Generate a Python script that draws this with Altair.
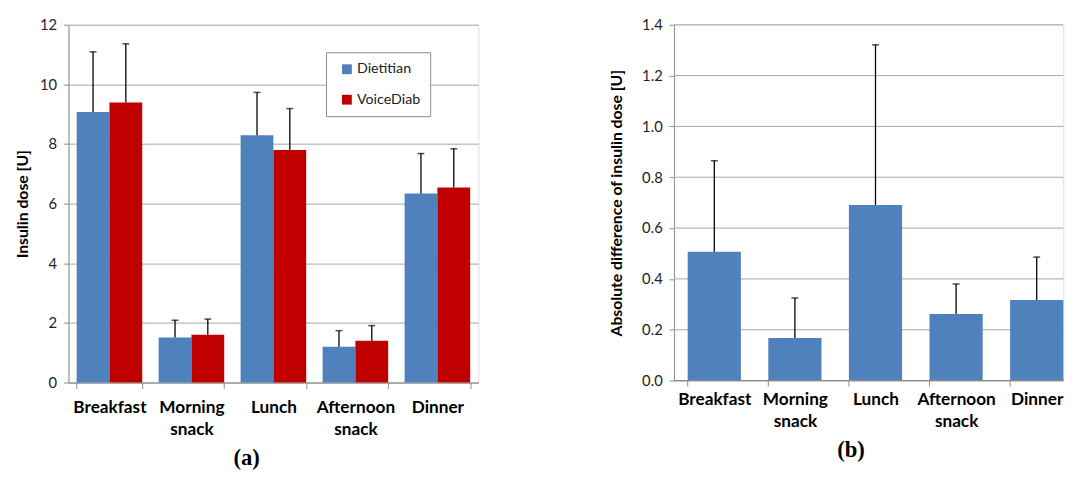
import altair as alt
import pandas as pd

categories = ["Breakfast", "Morning snack", "Lunch", "Afternoon snack", "Dinner"]
sources = ["Dietitian", "VoiceDiab"]
dietitian_mean = [9.07, 1.51, 8.29, 1.20, 6.34]
dietitian_err = [2.02, 0.58, 1.44, 0.54, 1.34]
voicediab_mean = [9.39, 1.60, 7.80, 1.40, 6.54]
voicediab_err = [1.97, 0.53, 1.39, 0.51, 1.30]
diff_mean = [0.507, 0.168, 0.691, 0.262, 0.317]
diff_err = [0.358, 0.157, 0.630, 0.118, 0.169]
ticks_a = [0, 2, 4, 6, 8, 10, 12]
ticks_b = [0.0, 0.2, 0.4, 0.6, 0.8, 1.0, 1.2, 1.4]

BLUE = "#4F81BD"
RED = "#C00000"
GRAY = "#8C8C8C"
GRID = "#A6A6A6"
FONT = "Lato"

rows = []
for i, c in enumerate(categories):
    rows.append({"meal": c, "source": "Dietitian", "mean": dietitian_mean[i],
                 "upper": dietitian_mean[i] + dietitian_err[i]})
    rows.append({"meal": c, "source": "VoiceDiab", "mean": voicediab_mean[i],
                 "upper": voicediab_mean[i] + voicediab_err[i]})
df_a = pd.DataFrame(rows)
df_b = pd.DataFrame({"meal": categories, "mean": diff_mean,
                     "upper": [m + e for m, e in zip(diff_mean, diff_err)]})
df_grid_b = pd.DataFrame({"v": ticks_b[1:]})


def x_axis(full):
    return alt.Axis(title=None, labelAngle=0, labelExpr="split(datum.label, ' ')",
                    labelFont=FONT, labelFontSize=17.5, labelFontWeight="bold",
                    labelColor="black", labelPadding=10, labelLineHeight=23,
                    ticks=full, domain=full, tickBand="extent", tickSize=6,
                    tickColor=GRAY, domainColor=GRAY, grid=False)


def y_axis(title, values, fmt, title_pad, grid):
    return alt.Axis(title=title, values=values, format=fmt,
                    titleFont=FONT, titleFontSize=16, titleFontWeight="bold",
                    titleColor="black", titlePadding=title_pad,
                    labelFont=FONT, labelFontSize=15, labelColor="#222",
                    labelPadding=7, tickSize=5, tickColor=GRAY, domainColor=GRAY,
                    grid=grid, gridColor=GRID)


def panel_title(text, dx=0):
    return alt.TitleParams(text, orient="bottom", anchor="middle", frame="bounds",
                           font="Liberation Serif", fontSize=23, fontWeight="bold",
                           color="black", offset=9, dx=dx)


# ---- panel (a)
x_a = alt.X("meal:N", sort=categories, axis=x_axis(True),
            scale=alt.Scale(paddingInner=0.2, paddingOuter=0.1))
xo_a = alt.XOffset("source:N", sort=sources,
                   scale=alt.Scale(paddingInner=0, paddingOuter=0))
y_a_scale = alt.Scale(domain=[0, 12], nice=False)

base_a = alt.Chart(df_a).encode(x=x_a, xOffset=xo_a)
bars_a = base_a.mark_bar().encode(
    y=alt.Y("mean:Q", scale=y_a_scale,
            axis=y_axis("Insulin dose [U]", ticks_a, "d", 9, True)),
    color=alt.Color("source:N", sort=sources,
                    scale=alt.Scale(domain=sources, range=[BLUE, RED]),
                    legend=alt.Legend(title=None, orient="none", legendX=262, legendY=28,
                                      fillColor="white", strokeColor=GRAY, padding=10,
                                      symbolType="square", symbolSize=100,
                                      symbolStrokeWidth=0, symbolOffset=4,
                                      labelFont=FONT, labelFontSize=14.5, labelColor="#222",
                                      labelOffset=3, rowPadding=16)),
)
err_a = base_a.mark_rule(color="black", strokeWidth=1.3).encode(
    y=alt.Y("mean:Q", scale=y_a_scale), y2="upper:Q")
cap_a = base_a.mark_tick(color="black", thickness=1.5, size=7, orient="horizontal").encode(
    y=alt.Y("upper:Q", scale=y_a_scale))

chart_a = alt.layer(bars_a, err_a, cap_a).properties(
    width=417, height=364, title=panel_title("(a)"))

# ---- panel (b)
W_B = 396
x_b = alt.X("meal:N", sort=categories, axis=x_axis(False),
            scale=alt.Scale(paddingInner=0.34, paddingOuter=0.17, range=[0, 410]))
y_b_scale = alt.Scale(domain=[0, 1.4], nice=False)
grid_b = alt.Chart(df_grid_b).mark_rule(color=GRID, strokeWidth=1).encode(
    y=alt.Y("v:Q", scale=y_b_scale), x=alt.value(0), x2=alt.value(W_B))
base_b = alt.Chart(df_b).encode(x=x_b)
bars_b = base_b.mark_bar(color=BLUE).encode(
    y=alt.Y("mean:Q", scale=y_b_scale,
            axis=y_axis("Absolute difference of insulin dose [U]", ticks_b, ".1f", 17, False)))
err_b = base_b.mark_rule(color="black", strokeWidth=1.3).encode(
    y=alt.Y("mean:Q", scale=y_b_scale), y2="upper:Q")
cap_b = base_b.mark_tick(color="black", thickness=1.5, size=7, orient="horizontal").encode(
    y=alt.Y("upper:Q", scale=y_b_scale))
xticks_b = alt.Chart(df_b).mark_rule(color=GRAY, strokeWidth=1).encode(
    x=alt.X("meal:N", sort=categories, bandPosition=0),
    y=alt.value(362), y2=alt.value(368))
xdomain_b = alt.Chart(df_b).mark_rule(color=GRAY, strokeWidth=1).encode(
    x=alt.value(0), x2=alt.value(W_B), y=alt.value(362))

chart_b = alt.layer(grid_b, bars_b, err_b, cap_b, xticks_b, xdomain_b).resolve_scale(
    y="shared").properties(width=W_B, height=362, title=panel_title("(b)", dx=8))

chart = alt.hconcat(chart_a, chart_b, spacing=131).properties(
    padding={"left": 6.5, "top": 5, "right": 0, "bottom": 0}
).configure_view(stroke=None).configure(background="white")

chart.save("out.html", embed_options={"renderer": "svg", "actions": False})
